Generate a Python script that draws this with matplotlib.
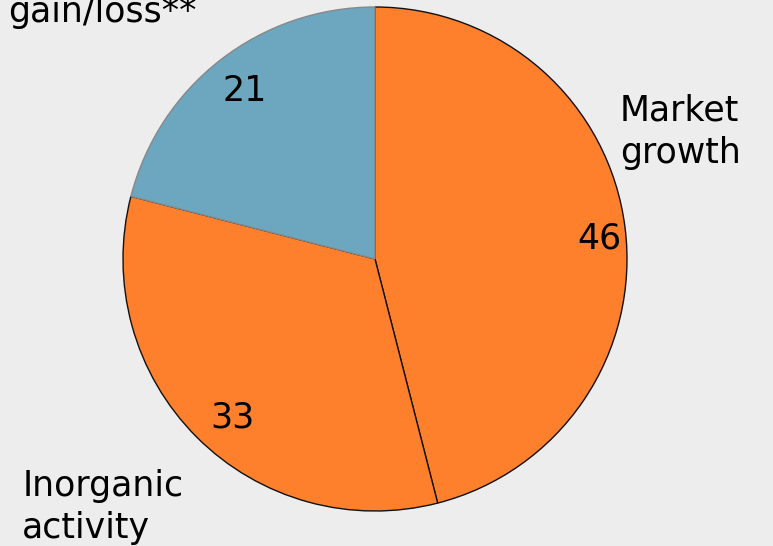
import matplotlib
matplotlib.use("Agg")
import matplotlib.pyplot as plt

labels = ["Market\ngrowth", "Inorganic\nactivity", "Share\ngain/loss**"]
values = [46, 33, 21]
colors = ["#FE7F2C", "#FE7F2C", "#6CA7BF"]
edges = ["#111111", "#111111", "#888888"]

W, H, DPI = 773, 546, 100
fig = plt.figure(figsize=(W / DPI, H / DPI), dpi=DPI, facecolor="#EDEDED")
ax = fig.add_axes([0, 0, 1, 1])
ax.set_facecolor("#EDEDED")

FS = 25
wedges, texts, autotexts = ax.pie(
    values, colors=colors, startangle=90, counterclock=False,
    autopct="%.0f", pctdistance=0.845, radius=1.0,
    wedgeprops=dict(linewidth=1.0),
    textprops=dict(fontsize=FS, color="black", family="DejaVu Sans"),
)
for w, ec in zip(wedges, edges):
    w.set_edgecolor(ec)
autotexts[0].set_position((0.89, 0.083))
autotexts[1].set_position((-0.567, -0.627))

# Outside labels
ax.text(0.972, 0.381, labels[0], ha="left", va="baseline", fontsize=FS,
        linespacing=1.3, family="DejaVu Sans")
ax.text(-1.40, -1.107, labels[1], ha="left", va="baseline", fontsize=FS,
        linespacing=1.3, family="DejaVu Sans")
ax.text(-0.706, 0.94, labels[2], ha="right", va="baseline", fontsize=FS,
        linespacing=1.3, multialignment="right", family="DejaVu Sans")

px = 252.0
ax.set_xlim(-375 / px, (W - 375) / px)
ax.set_ylim(-(H - 259) / px, 259 / px)
ax.set_aspect("auto")
ax.axis("off")

fig.savefig("out.png", dpi=DPI, facecolor=fig.get_facecolor())
